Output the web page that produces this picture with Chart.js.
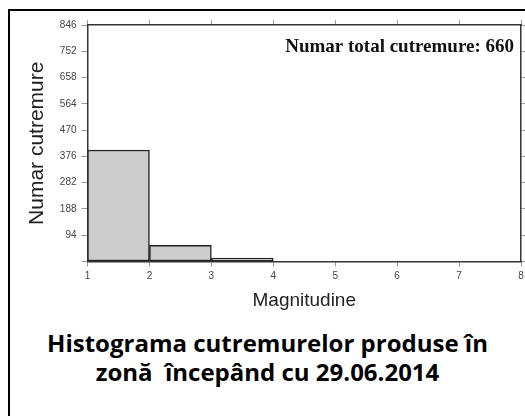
<!DOCTYPE html>
<html>
<head>
<meta charset="utf-8">
<script src="https://cdn.jsdelivr.net/npm/chart.js@4.4.1/dist/chart.umd.min.js"></script>
<style>
  html, body { margin: 0; padding: 0; background: #fff; overflow: hidden; width: 525px; height: 416px; }
  #frame { position: absolute; left: 8px; top: 9px; width: 600px; height: 500px; border: 2px solid #000; }
  #wrap { position: absolute; left: 0; top: 0; width: 529px; height: 320px; }
  .caption { position: absolute; left: 0; width: 535px; text-align: center; line-height: 30px;
    font-family: "Open Sans", sans-serif; font-weight: bold; font-size: 24px; color: #000; white-space: pre; }
</style>
</head>
<body>
<div id="frame"></div>
<div id="wrap"><canvas id="myChart"></canvas></div>
<div class="caption" style="top:328px">Histograma cutremurelor produse în</div>
<div class="caption" style="top:357px">zonă  începând cu 29.06.2014</div>
<script>
// histogram bins (magnitude) and counts
const binStarts = [1, 2, 3, 4, 5, 6, 7];
const counts = [399, 58, 12, 0, 0, 0, 0];
const yTicks = [0, 94, 188, 282, 376, 470, 564, 658, 752, 846];
const totalLabel = 'Numar total cutremure: 660';

const ctx = document.getElementById('myChart');

const tickGrid = {
  drawOnChartArea: false,
  drawTicks: true,
  offset: false,
  tickLength: 5,
  color: '#999'
};

const totalText = {
  id: 'totalText',
  afterDraw(chart) {
    const c = chart.ctx;
    const a = chart.chartArea;
    c.save();
    c.font = 'bold 19px "Liberation Serif", serif';
    c.fillStyle = '#111';
    c.textAlign = 'right';
    c.textBaseline = 'alphabetic';
    c.fillText(totalLabel, a.right - 7, a.top + 27);
    c.restore();
  }
};

new Chart(ctx, {
  type: 'bar',
  data: {
    datasets: [{
      label: 'Numar cutremure',
      data: binStarts.map((b, i) => ({ x: b + 0.5, y: counts[i] })),
      backgroundColor: '#cccccc',
      borderColor: '#222',
      borderWidth: 1.5,
      borderSkipped: false,
      barPercentage: 1,
      categoryPercentage: 1
    }]
  },
  plugins: [totalText],
  options: {
    responsive: true,
    maintainAspectRatio: false,
    animation: false,
    layout: { padding: 0 },
    plugins: {
      legend: { display: false },
      tooltip: { enabled: false }
    },
    scales: {
      x: {
        type: 'linear',
        position: 'bottom',
        offset: false,
        min: 1,
        max: 8,
        ticks: {
          stepSize: 1,
          padding: 4,
          color: '#444',
          font: { family: '"Liberation Sans", Arial, sans-serif', size: 10 }
        },
        grid: tickGrid,
        border: { color: '#333', width: 1.5 },
        title: {
          display: true,
          text: 'Magnitudine',
          color: '#222',
          font: { family: '"Liberation Sans", Arial, sans-serif', size: 19 },
          padding: { top: 0, bottom: 7.6 }
        },
        afterFit: (s) => { s.height = 58.5; }
      },
      x2: {
        type: 'linear',
        position: 'top',
        offset: false,
        min: 1,
        max: 8,
        ticks: { stepSize: 1, display: false },
        grid: tickGrid,
        border: { color: '#333', width: 1.5 },
        afterFit: (s) => { s.height = 25; }
      },
      y: {
        position: 'left',
        min: 0,
        max: 846,
        afterBuildTicks: (s) => { s.ticks = yTicks.map(v => ({ value: v })); },
        ticks: {
          padding: 5,
          color: '#444',
          font: { family: '"Liberation Sans", Arial, sans-serif', size: 10 },
          callback: (v) => v === 0 ? '' : v
        },
        grid: Object.assign({}, tickGrid, { tickLength: 6 }),
        border: { color: '#333', width: 1.5 },
        title: {
          display: true,
          text: 'Numar cutremure',
          color: '#222',
          font: { family: '"Liberation Sans", Arial, sans-serif', size: 21 },
          padding: { top: 25, bottom: 0 }
        },
        afterFit: (s) => { s.width = 87.5; }
      },
      y2: {
        position: 'right',
        min: 0,
        max: 846,
        afterBuildTicks: (s) => { s.ticks = yTicks.map(v => ({ value: v })); },
        ticks: { display: false },
        grid: tickGrid,
        border: { color: '#333', width: 1.5 },
        afterFit: (s) => { s.width = 8; }
      }
    }
  }
});
</script>
</body>
</html>
